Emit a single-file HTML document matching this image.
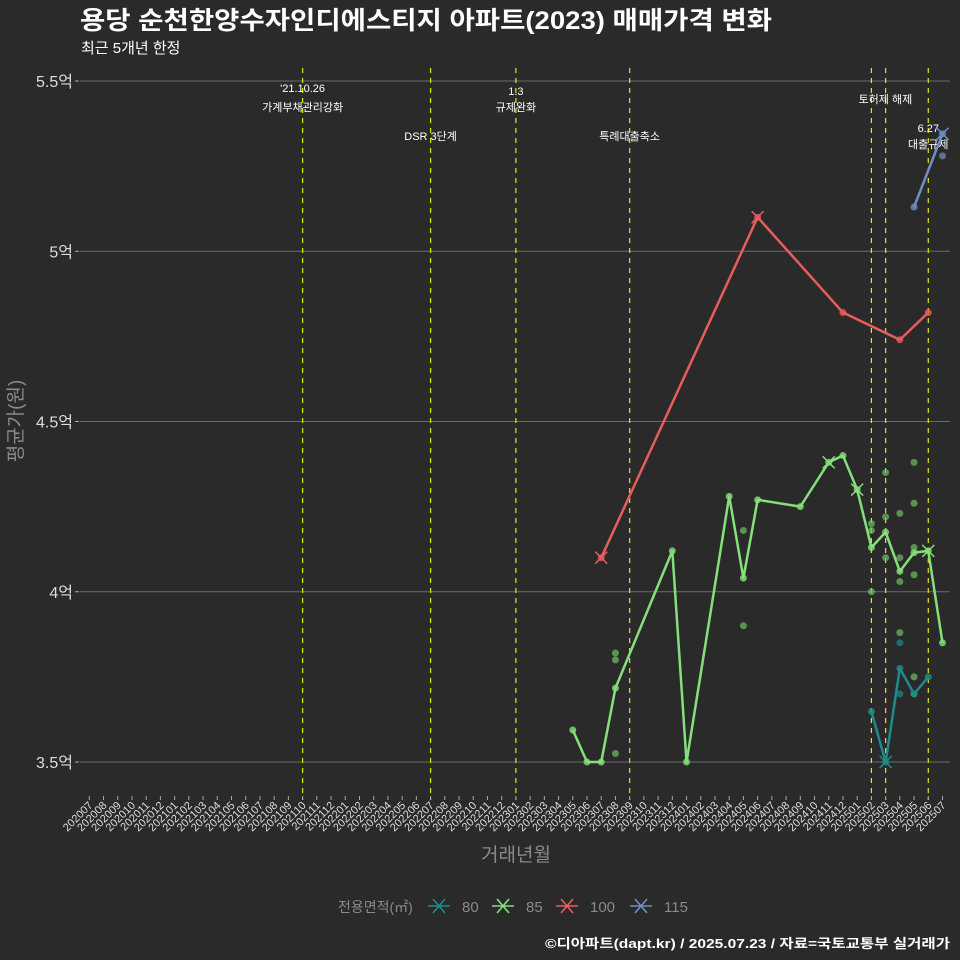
<!DOCTYPE html>
<html><head><meta charset="utf-8">
<style>
body{margin:0;background:#2a2a2b;}
svg{display:block;font-family:"Liberation Sans","Noto Sans CJK KR",sans-serif;}
</style></head>
<body>
<svg id="chart" width="960" height="960" viewBox="0 0 960 960">
<rect x="0" y="0" width="960" height="960" fill="#2a2a2b"/>
<text x="80" y="29" fill="#ffffff" font-size="25" font-weight="bold" textLength="692" lengthAdjust="spacingAndGlyphs">용당 순천한양수자인디에스티지 아파트(2023) 매매가격 변화</text>
<text x="81" y="53" fill="#ffffff" font-size="15">최근 5개년 한정</text>
<g id="grid"></g>
<g id="events"></g>
<g id="series"></g>
<g id="xaxis"></g>
<text transform="translate(22,421) rotate(-90)" text-anchor="middle" fill="#8a8a8a" font-size="19">평균가(원)</text>
<text x="516" y="861" text-anchor="middle" fill="#8a8a8a" font-size="19">거래년월</text>
<g id="legend">
<text x="338" y="912" fill="#8a8a8a" font-size="14">전용면적(㎡)</text>
</g>
<text x="950" y="948" text-anchor="end" fill="#ffffff" font-size="13" font-weight="bold" textLength="405" lengthAdjust="spacingAndGlyphs">©디아파트(dapt.kr) / 2025.07.23 / 자료=국토교통부 실거래가</text>
</svg>
<script>
const months=[];for(let y=2020,m=7;!(y===2025&&m===8);){months.push(''+y+(m<10?'0':'')+m);m++;if(m>12){m=1;y++;}}
const yTicks=[3.5,4,4.5,5,5.5];
const yTickLabels=['3.5억','4억','4.5억','5억','5.5억'];
const eventMonths=['202110','202207','202301','202309','202502','202503','202506'];
const s80Months=['202502','202503','202504','202505','202506'];
const s80Values=[3.648,3.5,3.775,3.70,3.75];
const s85Months=['202305','202306','202307','202308','202312','202401','202404','202405','202406','202409','202411','202412','202501','202502','202503','202504','202505','202506','202507'];
const s85Values=[3.594,3.5,3.5,3.717,4.12,3.5,4.28,4.04,4.27,4.25,4.38,4.40,4.30,4.13,4.175,4.06,4.115,4.12,3.85];
const s100Months=['202307','202406','202412','202504','202506'];
const s100Values=[4.10,5.10,4.82,4.74,4.82];
const s115Months=['202505','202507'];
const s115Values=[5.13,5.345];
const dot85Months=['202308','202308','202308','202405','202405','202502','202502','202502','202503','202503','202503','202504','202504','202504','202504','202505','202505','202505','202505','202505','202505'];
const dot85Values=[3.82,3.80,3.525,4.18,3.90,4.20,4.18,4.00,4.35,4.22,4.10,4.23,4.10,4.03,3.88,4.38,4.26,4.13,4.05,3.75,3.70];
const dot80Months=['202504','202504'];
const dot80Values=[3.85,3.70];
const dot115Months=['202507'];
const dot115Values=[5.28];
const xMarkMonths85=['202411','202501','202506'];
const xMarkValues85=[4.38,4.30,4.12];

const NS='http://www.w3.org/2000/svg';
const X0=89.3,DX=14.22,Y0=762,PY=340.5;
const xs=m=>X0+months.indexOf(m)*DX;
const ys=v=>Y0-(v-3.5)*PY;
function mk(tag,attrs,parent){const e=document.createElementNS(NS,tag);for(const k in attrs)e.setAttribute(k,attrs[k]);parent.appendChild(e);return e;}
const grid=document.getElementById('grid');
yTicks.forEach((t,i)=>{
 const l=mk('line',{x1:80,x2:950,y1:ys(t),y2:ys(t),stroke:'#6a6a6a','stroke-width':1},grid);
 
 
 const tk=mk('line',{x1:75,x2:79,y1:ys(t),y2:ys(t),stroke:'#aaa'},grid);
 
 
 const tx=mk('text',{x:73,y:ys(t)+6,'text-anchor':'end',fill:'#dddddd','font-size':16},grid);
 tx.textContent=yTickLabels[i];
 
 
});
const ev=document.getElementById('events');
eventMonths.forEach(m=>{
 const l=mk('line',{x1:xs(m),x2:xs(m),y1:68,y2:800,stroke:'#e6e619','stroke-width':1.2,'stroke-dasharray':'5,5'},ev);
 
 
});
const anns=[['202110',92,"'21.10.26"],['202110',111,'가계부채관리강화'],['202207',140,'DSR 3단계'],['202301',95,'1.3'],['202301',111,'규제완화'],['202309',140,'특례대출축소'],['202502',103,'토허제 해제',14],['202506',132,'6.27'],['202506',148,'대출규제']];
anns.forEach(a=>{
 const t=mk('text',{x:xs(a[0])+(a[3]||0),y:a[1],'text-anchor':'middle',fill:'#ffffff','font-size':11},ev);
 t.textContent=a[2];
 
 
});
const xa=document.getElementById('xaxis');
months.forEach(m=>{
 const x=xs(m);
 const tk=mk('line',{x1:x,x2:x,y1:796,y2:800,stroke:'#aaa'},xa);
 
 
 const t=mk('text',{transform:`translate(${x+4},${806}) rotate(-45)`,'text-anchor':'end',fill:'#dddddd','font-size':11},xa);
 t.textContent=m;
 
 
});
const sg=document.getElementById('series');
function dots(ms,vs,col,name){ms.forEach((m,i)=>{const c=mk('circle',{cx:xs(m),cy:ys(vs[i]),r:3.5,fill:col,opacity:0.7},sg);});}
function xmark(x,y,col,name){const g=mk('path',{d:`M${x-6},${y-6}L${x+6},${y+6}M${x-6},${y+6}L${x+6},${y-6}`,stroke:col,'stroke-width':1.5},sg);}
function line(ms,vs,col,name){
 const p=mk('polyline',{points:ms.map((m,i)=>xs(m)+','+ys(vs[i])).join(' '),fill:'none',stroke:col,'stroke-width':2.5,'stroke-linejoin':'round'},sg);
 
 
 ms.forEach((m,i)=>{const c=mk('circle',{cx:xs(m),cy:ys(vs[i]),r:3.5,fill:col,opacity:0.8},sg);});
}
const C80='#1f8a8a',C85='#86e07a',C100='#e85c5c',C115='#6f8fc0';
dots(dot85Months,dot85Values,'#6cc060','dot-85');
dots(dot80Months,dot80Values,C80,'dot-80');
dots(dot115Months,dot115Values,C115,'dot-115');
line(s85Months,s85Values,C85,'line-85');
line(s80Months,s80Values,C80,'line-80');
line(s100Months,s100Values,C100,'line-100');
line(s115Months,s115Values,C115,'line-115');
xMarkMonths85.forEach((m,i)=>xmark(xs(m),ys(xMarkValues85[i]),C85,'max-marker-85'));
xmark(xs('202503'),ys(3.5),C80,'max-marker-80');
xmark(xs('202307'),ys(4.10),C100,'max-marker-100');
xmark(xs('202406'),ys(5.10),C100,'max-marker-100');
xmark(xs('202507'),ys(5.345),C115,'max-marker-115');
const lg=document.getElementById('legend');
[['80',C80,428],['85',C85,492],['100',C100,556],['115',C115,630]].forEach(e=>{
 const x=e[2];
 const g=mk('path',{d:`M${x},906L${x+22},906M${x+5},899L${x+17},913M${x+5},913L${x+17},899`,stroke:e[1],'stroke-width':1.6},lg);
 
 
 const t=mk('text',{x:x+34,y:912,fill:'#8a8a8a','font-size':15},lg);
 t.textContent=e[0];
 
 
});
</script>
</body></html>
